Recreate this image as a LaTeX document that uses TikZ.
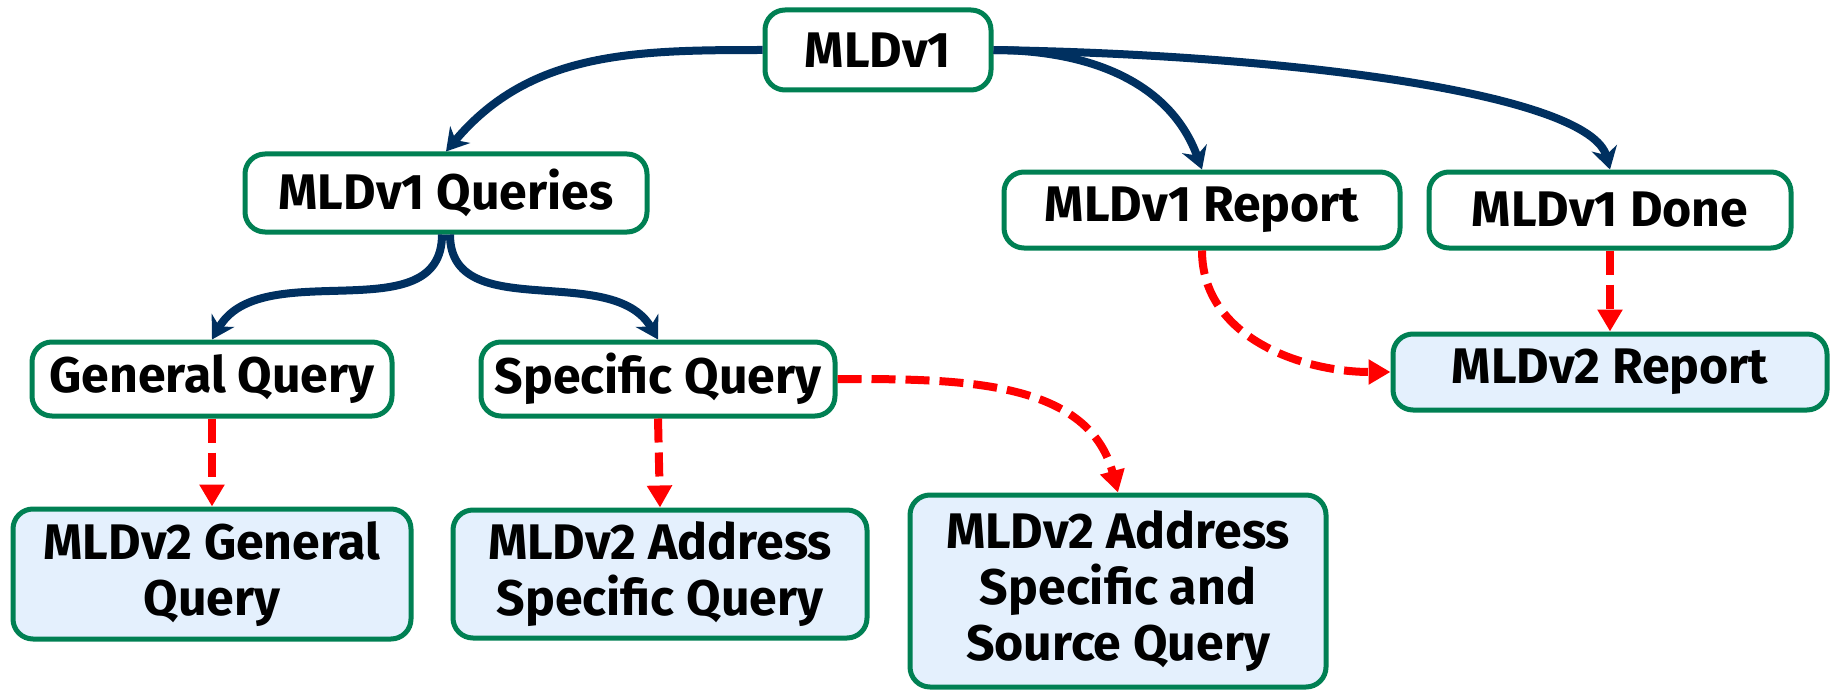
\documentclass[tikz,border=0pt]{standalone}
\usepackage{fontspec}
\setmainfont{Fira Sans}
\usetikzlibrary{arrows.meta}
\definecolor{mldgreen}{RGB}{0,128,83}
\definecolor{mldnavy}{RGB}{0,48,96}
\definecolor{mldblue}{RGB}{228,240,253}
\begin{document}
\begin{tikzpicture}[x=0.5pt,y=0.5pt,
  box/.style={draw=mldgreen,line width=2.5pt,rounded corners=10pt,fill=white,inner sep=0pt,
    font=\fontsize{25}{28}\selectfont\bfseries,align=center},
  newbox/.style={box,fill=mldblue},
  oldarr/.style={draw=mldnavy,line width=4pt,-{Stealth[length=11pt,width=13pt]}},
  newarr/.style={draw=red,line width=4pt,dash pattern=on 12pt off 5pt,-{Triangle[length=11pt,width=12pt]}}]
\useasboundingbox (0,0) rectangle (1831,-690);
% MLDv1 messages
\node[box,minimum width=113pt,minimum height=40pt] (mldv1) at (878,-50) {MLDv1};
\node[box,minimum width=201pt,minimum height=39pt] (queries) at (446,-193) {MLDv1 Queries};
\node[box,minimum width=198pt,minimum height=38pt] (report) at (1202,-210) {MLDv1 Report};
\node[box,minimum width=181pt,minimum height=38pt] (done) at (1610,-210) {MLDv1 Done};
\node[box,minimum width=180pt,minimum height=37pt] (general) at (212,-379) {General Query};
\node[box,minimum width=177pt,minimum height=37pt] (specific) at (658,-379) {Specific Query};
% MLDv2 messages
\node[newbox,minimum width=217pt,minimum height=38pt] (report2) at (1610,-372) {MLDv2 Report};
\node[newbox,minimum width=199pt,minimum height=65pt] (general2) at (212,-574) {MLDv2 General\\Query};
\node[newbox,minimum width=207pt,minimum height=64pt] (specific2) at (660,-574) {MLDv2 Address\\Specific Query};
\node[newbox,minimum width=208pt,minimum height=96pt] (source2) at (1118,-591) {MLDv2 Address\\Specific and\\Source Query};
% MLDv1 tree
\draw[oldarr] (mldv1.west) to[out=180,in=50] (queries.north);
\draw[oldarr] (mldv1.east) to[out=0,in=110] (report.north);
\draw[oldarr] (mldv1.east) .. controls (1300,-55) and (1590,-95) .. (done.north);
\draw[oldarr] ([xshift=-2pt]queries.south) to[out=-90,in=60] (general.north);
\draw[oldarr] ([xshift=2pt]queries.south) to[out=-90,in=120] (specific.north);
% mapping to MLDv2
\draw[newarr] (general.south) -- (general2.north);
\draw[newarr] (specific.south) -- (specific2.north);
\draw[newarr] (specific.east) to[out=0,in=105] (source2.north);
\draw[newarr] (report.south) to[out=-90,in=180] (report2.west);
\draw[newarr] (done.south) -- (report2.north);
\end{tikzpicture}
\end{document}
